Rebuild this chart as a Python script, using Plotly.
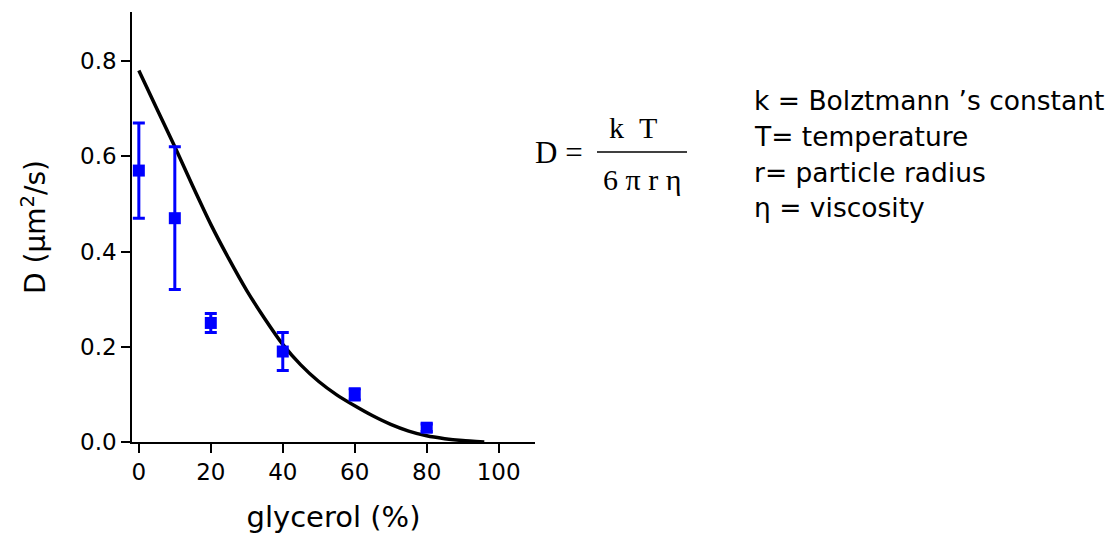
import plotly.graph_objects as go

# Measured data (glycerol %, diffusion coefficient in um^2/s)
glycerol = [0, 10, 20, 40, 60, 80]
D_meas = [0.57, 0.47, 0.25, 0.19, 0.10, 0.03]
D_err_plus = [0.10, 0.15, 0.02, 0.04, 0.012, 0.008]
D_err_minus = [0.10, 0.15, 0.02, 0.04, 0.012, 0.008]

# Stokes-Einstein prediction curve
curve_x = [0, 5, 10, 15, 20, 25, 30, 35, 40, 45, 50, 55, 60, 65, 70, 75, 80, 85, 90, 96]
curve_y = [0.78, 0.70, 0.62, 0.537, 0.457, 0.385, 0.318, 0.259, 0.205, 0.162, 0.127,
           0.099, 0.076, 0.055, 0.037, 0.023, 0.013, 0.007, 0.003, 0.0]

x_ticks = [0, 20, 40, 60, 80, 100]
y_ticks = [0.0, 0.2, 0.4, 0.6, 0.8]

legend_lines = ["k = Bolztmann \u2019s constant", "T= temperature",
                "r= particle radius", "\u03b7 = viscosity"]

SANS = "DejaVu Sans, Arial, sans-serif"
SERIF = "Liberation Serif, Times New Roman, serif"

fig = go.Figure()
fig.add_trace(go.Scatter(
    x=curve_x, y=curve_y, mode="lines",
    line=dict(color="black", width=3.5, shape="spline", smoothing=0.5),
    showlegend=False, hoverinfo="skip"))
fig.add_trace(go.Scatter(
    x=glycerol, y=D_meas, mode="markers",
    marker=dict(symbol="square", size=12, color="#0000ff"),
    error_y=dict(type="data", symmetric=False, array=D_err_plus, arrayminus=D_err_minus,
                 color="#0000ff", thickness=3, width=6),
    showlegend=False))

L, R, T, B = 132, 585, 12, 94
W, H = 1120, 536
pw, ph = W - L - R, H - T - B

def px(xp):
    return (xp - L) / pw

def py(yp):
    return (H - B - yp) / ph

annotations = []
# Formula
annotations.append(dict(text="D\u00a0=", x=px(559), y=py(152), xref="paper", yref="paper",
                        showarrow=False, xanchor="center", yanchor="middle",
                        font=dict(family=SERIF, size=31, color="black")))
annotations.append(dict(text="k\u00a0\u00a0T", x=px(633), y=py(127), xref="paper", yref="paper",
                        showarrow=False, xanchor="center", yanchor="middle",
                        font=dict(family=SERIF, size=30, color="black")))
annotations.append(dict(text="6\u00a0\u03c0\u00a0r\u00a0\u03b7", x=px(642), y=py(179),
                        xref="paper", yref="paper",
                        showarrow=False, xanchor="center", yanchor="middle",
                        font=dict(family=SERIF, size=30, color="black")))
# Definitions
for i, txt in enumerate(legend_lines):
    annotations.append(dict(text=txt, x=px(752), y=py(100 + 36 * i), xref="paper", yref="paper",
                            showarrow=False, xanchor="left", yanchor="middle",
                            font=dict(family=SANS, size=26.5, color="black")))

fig.update_layout(
    width=W, height=H,
    margin=dict(l=L, r=R, t=T, b=B, pad=0, autoexpand=False),
    plot_bgcolor="white", paper_bgcolor="white",
    font=dict(family=SANS, color="black"),
    annotations=annotations,
    shapes=[dict(type="line", xref="paper", yref="paper",
                 x0=px(597), x1=px(687), y0=py(152), y1=py(152),
                 line=dict(color="black", width=1.5))],
    xaxis=dict(range=[-1.9, 110.1], tickvals=x_ticks, ticks="outside", ticklen=9,
               tickwidth=1.5, tickcolor="black", showline=True, linecolor="black",
               linewidth=1.5, showgrid=False, zeroline=False, automargin=False,
               tickfont=dict(size=23, family=SANS),
               title=dict(text="glycerol (%)", font=dict(size=29, family=SANS), standoff=22)),
    yaxis=dict(range=[0, 0.903], tickvals=y_ticks, tickformat=".1f", ticks="outside",
               ticklen=9, tickwidth=1.5, tickcolor="black", showline=True,
               linecolor="black", linewidth=1.5, showgrid=False, zeroline=False,
               automargin=False,
               tickfont=dict(size=23, family=SANS),
               title=dict(text="D (\u03bcm<sup>2</sup>/s)", font=dict(size=28, family=SANS),
                          standoff=26)),
)

fig.write_html("out.html")
